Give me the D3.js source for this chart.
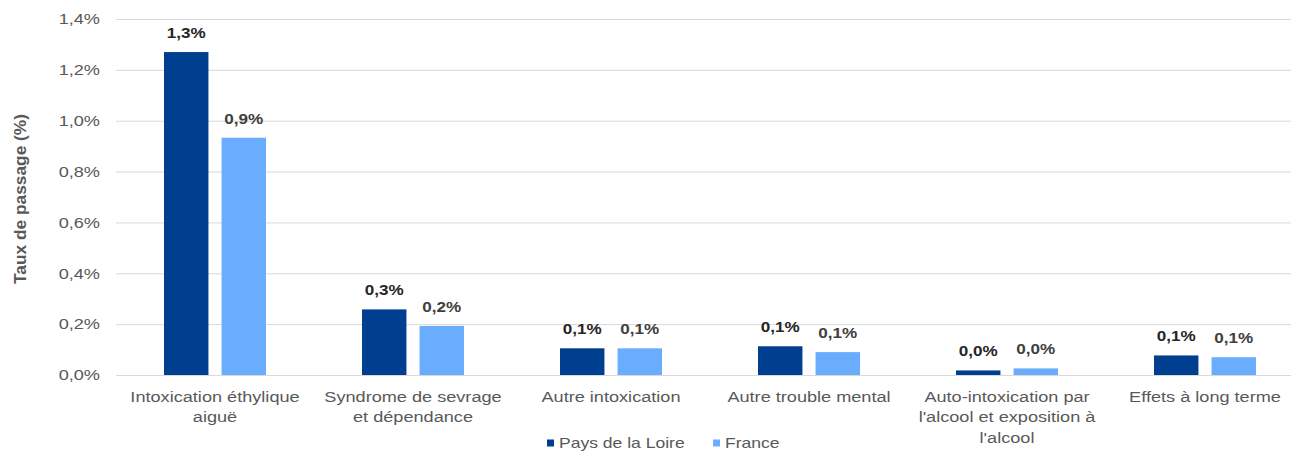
<!DOCTYPE html>
<html><head><meta charset="utf-8">
<script src="https://cdn.jsdelivr.net/npm/d3@7/dist/d3.min.js"></script>
<style>
html,body{margin:0;padding:0;background:#fff;}
svg{display:block;font-family:"Liberation Sans",Arial,sans-serif;}
</style></head>
<body><svg id="chart" width="1291" height="452"></svg>
<script>
const categories = [
  ["Intoxication éthylique", "aiguë"],
  ["Syndrome de sevrage", "et dépendance"],
  ["Autre intoxication"],
  ["Autre trouble mental"],
  ["Auto-intoxication par", "l'alcool et exposition à", "l'alcool"],
  ["Effets à long terme"]
];
const seriesNames = ["Pays de la Loire", "France"];
const paysDeLaLoire = [1.27, 0.258, 0.105, 0.113, 0.018, 0.077];
const france = [0.933, 0.193, 0.105, 0.090, 0.026, 0.070];
const yTicks = [0, 0.2, 0.4, 0.6, 0.8, 1.0, 1.2, 1.4];
const colors = ["#003f8f", "#6aadff"];

const svg = d3.select("#chart");
const mLeft = 116, mRight = 1304, mTop = 19, mBottom = 375;
const SX = 1.21; // horizontal stretch of the reference's text
const fmt = v => d3.format(".1f")(v).replace(".", ",") + "%";

const x0 = d3.scaleBand().domain(d3.range(categories.length)).range([mLeft, mRight]).paddingInner(0).paddingOuter(0);
const y = d3.scaleLinear().domain([0, 1.4]).range([mBottom, mTop]);

// gridlines
svg.append("g").selectAll("line").data(yTicks).join("line")
  .attr("x1", mLeft).attr("x2", mRight)
  .attr("y1", d => y(d) + 0.5).attr("y2", d => y(d) + 0.5)
  .attr("stroke", "#d9d9d9").attr("stroke-width", 1);

// y tick labels
const yAxis = d3.axisLeft(y).tickValues(yTicks).tickSize(0).tickPadding(0).tickFormat(fmt);
const ga = svg.append("g").attr("transform", `translate(${mLeft},0)`).call(yAxis);
ga.select(".domain").remove();
ga.selectAll("text")
  .attr("x", 0)
  .attr("transform", `translate(-16,0) scale(${SX},1)`)
  .attr("font-size", 15).attr("fill", "#595959").attr("font-family", "Liberation Sans, Arial, sans-serif");

// y title
svg.append("text")
  .attr("transform", `translate(26,${(mTop + mBottom) / 2 + 2}) rotate(-90)`)
  .attr("text-anchor", "middle").attr("font-size", 16).attr("font-weight", "bold")
  .attr("fill", "#595959").attr("textLength", 170).attr("lengthAdjust", "spacingAndGlyphs")
  .text("Taux de passage (%)");

// bars
const data = categories.map((c, i) => ({ i, vals: [paysDeLaLoire[i], france[i]] }));
const barW = 44, gap = 13;
const groups = svg.append("g").selectAll("g").data(data).join("g")
  .attr("transform", d => `translate(${x0(d.i) + x0.bandwidth() / 2},0)`);
const x1 = d3.scaleBand().domain([0, 1]).range([-(barW + gap / 2) - 0.5, barW + gap / 2 + 0.5]).paddingInner(gap / (barW + gap)).paddingOuter(0);
groups.selectAll("rect").data(d => d.vals.map((v, k) => ({ v, k }))).join("rect")
  .attr("x", d => x1(d.k)).attr("width", x1.bandwidth())
  .attr("y", d => y(d.v)).attr("height", d => mBottom - y(d.v))
  .attr("fill", d => colors[d.k]);
groups.selectAll("text.lbl").data(d => d.vals.map((v, k) => ({ v, k }))).join("text")
  .attr("class", "lbl")
  .attr("transform", d => `translate(${x1(d.k) + x1.bandwidth() / 2},${y(d.v) - 14}) scale(1.14,1)`)
  .attr("text-anchor", "middle").attr("font-size", 15).attr("font-weight", "bold")
  .attr("fill", d => d.k === 0 ? "#262626" : "#404040")
  .text(d => fmt(d.v));

// x labels
const xl = svg.append("g").selectAll("text").data(data).join("text")
  .attr("text-anchor", "middle").attr("font-size", 15).attr("fill", "#595959")
  .attr("transform", d => `translate(${x0(d.i) + x0.bandwidth() / 2},402) scale(${SX},1)`);
xl.selectAll("tspan").data(d => categories[d.i]).join("tspan")
  .attr("x", 0).attr("dy", (d, j) => j === 0 ? 0 : 20.5).text(d => d);

// legend
const legX = [547, 713];
const lg = svg.append("g").selectAll("g").data(seriesNames).join("g")
  .attr("transform", (d, i) => `translate(${legX[i]},439.5)`);
lg.append("rect").attr("width", 7).attr("height", 7).attr("fill", (d, i) => colors[i]);
lg.append("text").attr("transform", `translate(12,8.5) scale(${SX},1)`).attr("font-size", 14.5).attr("fill", "#595959").text(d => d);
</script></body></html>
